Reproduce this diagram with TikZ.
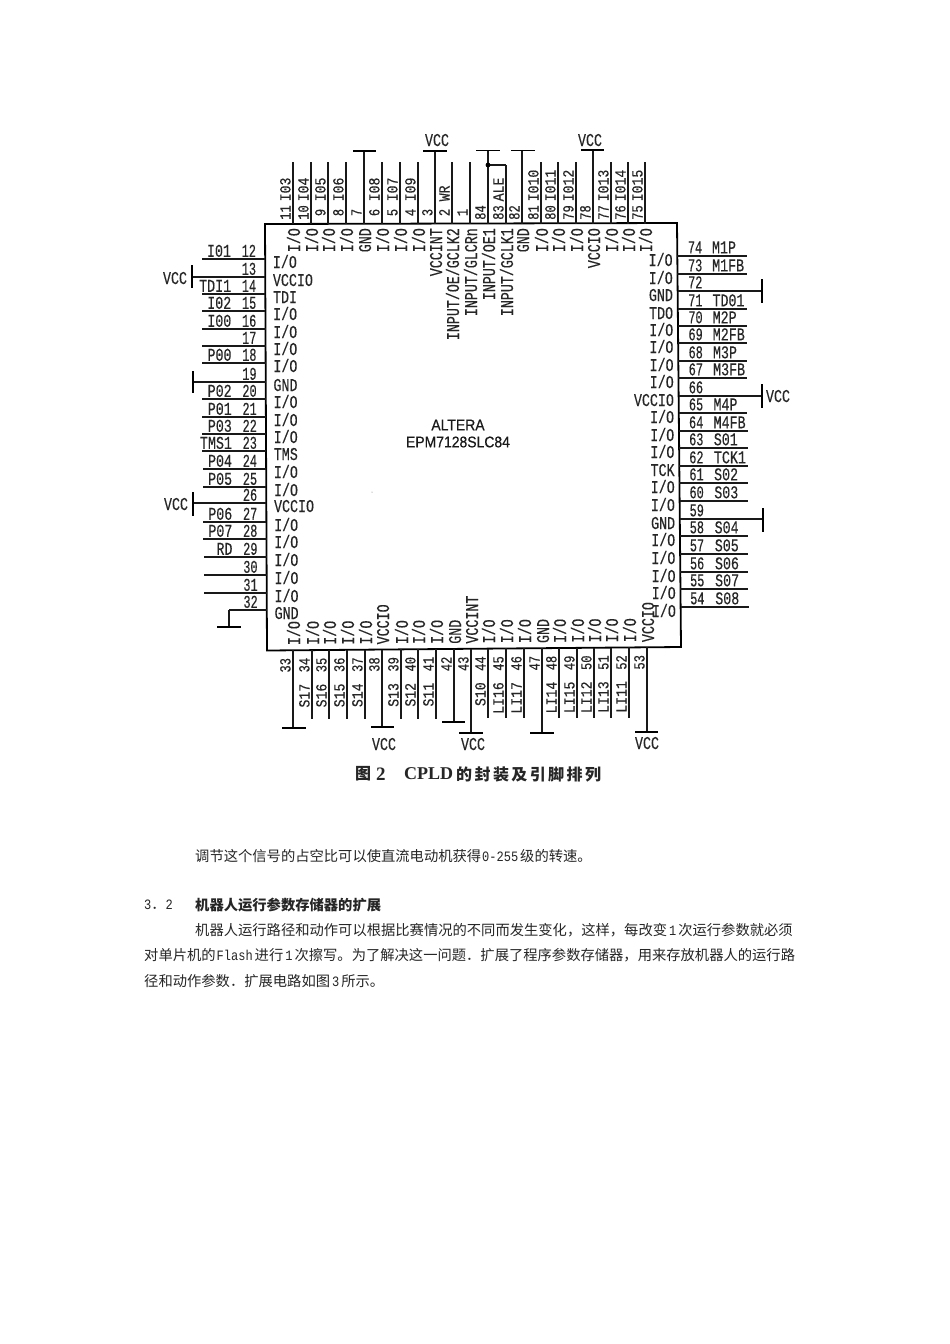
\documentclass[tikz,border=0pt]{standalone}
\usepackage{fontspec}
\setmainfont{Liberation Serif}
\newfontfamily\pinf[FakeStretch=0.74,FakeBold=0.25]{Liberation Mono}
\newfontfamily\numf[FakeStretch=0.66,FakeBold=0.25]{Liberation Mono}
\newfontfamily\pintop[FakeStretch=0.85,FakeBold=0.25]{Liberation Mono}
\newfontfamily\numtop[FakeStretch=0.78,FakeBold=0.25]{Liberation Mono}
\newfontfamily\chipf[FakeStretch=0.9,FakeBold=0.6]{Liberation Sans}
\newfontfamily\latf[FakeStretch=0.84]{Liberation Mono}
\newfontfamily\cjkf{Noto Sans CJK SC}
\newfontfamily\capcjk[LetterSpace=15]{Noto Sans CJK SC}
\newfontfamily\capf{Liberation Serif}
\newcommand{\lat}[1]{{\latf\fontsize{14.3}{16}\selectfont #1}}
\begin{document}
\begin{tikzpicture}[x=1pt,y=-1pt,
  wire/.style={line width=1.05pt,black!90},
  barl/.style={line width=1.8pt,black},
  boxl/.style={line width=1.8pt,black},
  inner/.style={inner sep=0pt,text height=12pt,text depth=0pt,font=\pinf\fontsize{18}{20}\selectfont,text=black!85},
  nums/.style={inner sep=0pt,text height=12pt,text depth=0pt,font=\numf\fontsize{18}{20}\selectfont,text=black!85},
  names/.style={inner sep=0pt,text height=12pt,text depth=0pt,font=\pinf\fontsize{18}{20}\selectfont,text=black!85},
  numsT/.style={inner sep=0pt,text height=10pt,text depth=0pt,font=\numtop\fontsize{15.5}{20}\selectfont,text=black!85},
  namesT/.style={inner sep=0pt,text height=10pt,text depth=0pt,font=\pintop\fontsize{15.5}{20}\selectfont,text=black!85},
  para/.style={inner sep=0pt,anchor=west,font=\cjkf\fontsize{14.3}{16}\selectfont,text=black!85},
  capt/.style={inner sep=0pt,anchor=west,text=black!85},
]
\useasboundingbox (0,0) rectangle (950,1344);
\fill[white] (0,0) rectangle (950,1344);
% chip outline
\coordinate (TL) at (265,224);
\coordinate (TR) at (677,223);
\coordinate (BR) at (681,647);
\coordinate (BL) at (267,650.5);
\draw[boxl] (TL) -- (TR) -- (BR) -- (BL) -- cycle;
% top pins: number/x/name/end y/inner label
\foreach \n/\x/\nm/\e/\lab in {
 11/293/I03/162/I\slash O,10/311/I04/162/I\slash O,9/328/I05/162/I\slash O,8/346/I06/162/I\slash O,
 7/364/{}/151/GND,6/382/I08/162/I\slash O,5/400/I07/162/I\slash O,4/418/I09/162/I\slash O,
 3/435/{}/151/VCCINT,2/452/WR/162/INPUT\slash OE\slash GCLK2,1/470/{}/162/INPUT\slash GLCRn,
 84/488/{}/151/INPUT\slash OE1,83/506/ALE/165/INPUT\slash GCLK1,82/522/{}/151/GND,
 81/541/I010/162/I\slash O,80/558/I011/162/I\slash O,79/576/I012/162/I\slash O,
 78/593/{}/150/VCCIO,77/611/I013/162/I\slash O,76/628/I014/162/I\slash O,75/645/I015/162/I\slash O}{
  \coordinate (ta\n) at (\x,224);
  \coordinate (tb\n) at (\x,\e);
  \draw[wire] (ta\n) -- (tb\n);
  \node[numsT,rotate=90] (tn\n) at (\x-7.5,212.5) {\n};
  \node[namesT,rotate=90,anchor=west] (tm\n) at (\x-7.5,201.5) {\nm};
  \node[inner,rotate=90,anchor=east] (ti\n) at (\x+1,228) {\lab};
}
% bottom pins
\foreach \n/\x/\nm/\e/\lab in {
 33/293/{}/728/I\slash O,34/312/S17/719/I\slash O,35/329/S16/719/I\slash O,36/347/S15/719/I\slash O,37/365/S14/719/I\slash O,
 38/382/{}/727/VCCIO,39/401/S13/719/I\slash O,40/418/S12/719/I\slash O,41/436/S11/719/I\slash O,
 42/454/{}/722/GND,43/471/{}/733/VCCINT,44/488/S10/718/I\slash O,45/506/LI16/718/I\slash O,46/524/LI17/718/I\slash O,
 47/542/{}/733/GND,48/559/LI14/718/I\slash O,49/577/LI15/718/I\slash O,50/594/LI12/718/I\slash O,51/611/LI13/718/I\slash O,52/629/LI11/718/I\slash O,
 53/647/{}/732/VCCIO}{
  \pgfmathsetmacro\by{650.5-(\x-267)*0.0085}
  \coordinate (ba\n) at (\x,\by);
  \coordinate (bb\n) at (\x,\e);
  \draw[wire] (ba\n) -- (bb\n);
  \node[numsT,rotate=90] (bn\n) at (\x-7.5,\by+15) {\n};
  \node[namesT,rotate=90,anchor=east] (bm\n) at (\x-7.5,\by+33.5) {\nm};
  \node[inner,rotate=90,anchor=west] (bi\n) at (\x+1,\by-5) {\lab};
}
% left pins
\foreach \n/\y/\nm/\e/\lab in {
 12/259/I01/202/I\slash O,13/277/{}/192/VCCIO,14/294/TDI1/202/TDI,15/311/I02/202/I\slash O,16/329/I00/202/I\slash O,
 17/346/{}/202/I\slash O,18/363/P00/202/I\slash O,19/382/{}/192/GND,20/399/P02/202/I\slash O,21/417/P01/202/I\slash O,
 22/434/P03/202/I\slash O,23/451/TMS1/202/TMS,24/469/P04/203/I\slash O,25/487/P05/203/I\slash O,26/503/{}/193/VCCIO,
 27/522/P06/203/I\slash O,28/539/P07/203/I\slash O,29/557/RD/204/I\slash O,30/575/{}/204/I\slash O,31/593/{}/204/I\slash O,32/610/{}/229/GND}{
  \pgfmathsetmacro\dx{(\y-224)*0.005}
  \coordinate (la\n) at (265+\dx,\y);
  \coordinate (lb\n) at (\e,\y);
  \draw[wire] (la\n) -- (lb\n);
  \node[nums,anchor=south east] (ln\n) at (256+\dx,\y-2) {\n};
  \node[names,anchor=south east] (lm\n) at (231+\dx,\y-2) {\nm};
  \node[inner,anchor=west] (li\n) at (272.5+\dx,\y+3) {\lab};
}
% right pins
\foreach \n/\y/\nm/\e/\lab in {
 74/256/M1P/747/I\slash O,73/274/M1FB/747/I\slash O,72/291/{}/762/GND,71/309/TD01/747/TDO,70/326/M2P/747/I\slash O,
 69/343/M2FB/747/I\slash O,68/361/M3P/747/I\slash O,67/378/M3FB/747/I\slash O,66/396/{}/762/VCCIO,65/413/M4P/747/I\slash O,
 64/431/M4FB/748/I\slash O,63/448/S01/748/I\slash O,62/466/TCK1/748/TCK,61/483/S02/748/I\slash O,60/501/S03/748/I\slash O,
 59/519/{}/763/GND,58/536/S04/748/I\slash O,57/554/S05/748/I\slash O,56/572/S06/748/I\slash O,55/589/S07/748/I\slash O,54/607/S08/749/I\slash O}{
  \pgfmathsetmacro\dx{(\y-224)*0.0094}
  \coordinate (ra\n) at (677+\dx,\y);
  \coordinate (rb\n) at (\e,\y);
  \draw[wire] (ra\n) -- (rb\n);
  \node[nums,anchor=south west] (rn\n) at (687.5+\dx*0.7,\y-2.5) {\n};
  \node[names,anchor=south west] (rm\n) at (711.5+\dx,\y-2.5) {\nm};
  \node[inner,anchor=east] (ri\n) at (672.5+\dx,\y+4) {\lab};
}
% wire stub for pin 32
\coordinate (g32) at (229,627);
\draw[wire] (lb32) -- (g32);
% bars
\foreach \nm/\xa/\ya/\xb/\yb in {
 tbar7/353/151/376/151,tbar3/423/151/447/151,tbar84/476/150.5/500/150.5,tbar82/511/150.5/535/150.5,tbar78/581/150/604/150,
 lbar13/192/265/192/288,lbar19/193/371/193/393,lbar26/193/492/193/516,lbar32/217/627/241/627,
 rbar72/762/279/762/303,rbar66/762/384/762/408,rbar59/763/508/763/532,
 bbar33/282/728/306/728,bbar38/371/727/394/727,bbar42/442/722/465/722,bbar43/459/733/483/733,bbar47/530/733/554/733,bbar53/635/732/658/732}{
  \coordinate (\nm a) at (\xa,\ya);
  \coordinate (\nm b) at (\xb,\yb);
  \draw[barl] (\nm a) -- (\nm b);
}
% pin 83 to pin 84 junction
\coordinate (j84) at (488,165);
\draw[wire] (tb83) -- (j84);
\fill (j84) circle (2.4pt);
% VCC labels
\foreach \nm/\x/\y in {v3/437/140,v78/590/140,v13/175/278,v26/176/504,v66/778/396,v38/384/744,v43/473/744,v53/647/743}{
  \node[inner,anchor=center] (\nm) at (\x,\y) {VCC};
}
% chip text
\node[inner sep=0pt,font=\chipf\fontsize{15.5}{16}\selectfont,text=black!90] (alt) at (458,425) {ALTERA};
\node[inner sep=0pt,font=\chipf\fontsize{15.5}{16}\selectfont,text=black!90] (epm) at (458,442) {EPM7128SLC84};
% speck
\fill[black!55] (372,492) circle (0.5pt);
% caption
\node[capt,font=\cjkf\bfseries\fontsize{16}{18}\selectfont] (cap1) at (355,774) {图};
\node[capt,font=\capf\bfseries\fontsize{19}{20}\selectfont] (cap2) at (376,774) {2};
\node[capt,font=\capf\bfseries\fontsize{18}{20}\selectfont] (cap3) at (404,774) {CPLD};
\node[capt,font=\capcjk\bfseries\fontsize{16}{18}\selectfont] (cap4) at (456,774) {的封装及引脚排列};
% body text
\node[para] (p1) at (195,856) {调节这个信号的占空比可以使直流电动机获得\hspace{1pt}\lat{0-255}\hspace{2pt}级的转速。};
\node[para,font=\cjkf\bfseries\fontsize{14.3}{16}\selectfont] (h1) at (195,905) {机器人运行参数存储器的扩展};
\node[para] (h0) at (144,905) {\lat{3}．\lat{2}};
\node[para] (p2) at (195,930) {机器人运行路径和动作可以根据比赛情况的不同而发生变化，这样，每改变\hspace{2pt}\lat{1}\hspace{2pt}次运行参数就必须};
\node[para] (p3) at (144,955) {对单片机的\hspace{1pt}\lat{Flash}\hspace{2pt}进行\hspace{2pt}\lat{1}\hspace{2pt}次擦写。为了解决这一问题．扩展了程序参数存储器，用来存放机器人的运行路};
\node[para] (p4) at (144,981) {径和动作参数．扩展电路如图\hspace{2pt}\lat{3}\hspace{2pt}所示。};
\end{tikzpicture}
\end{document}
